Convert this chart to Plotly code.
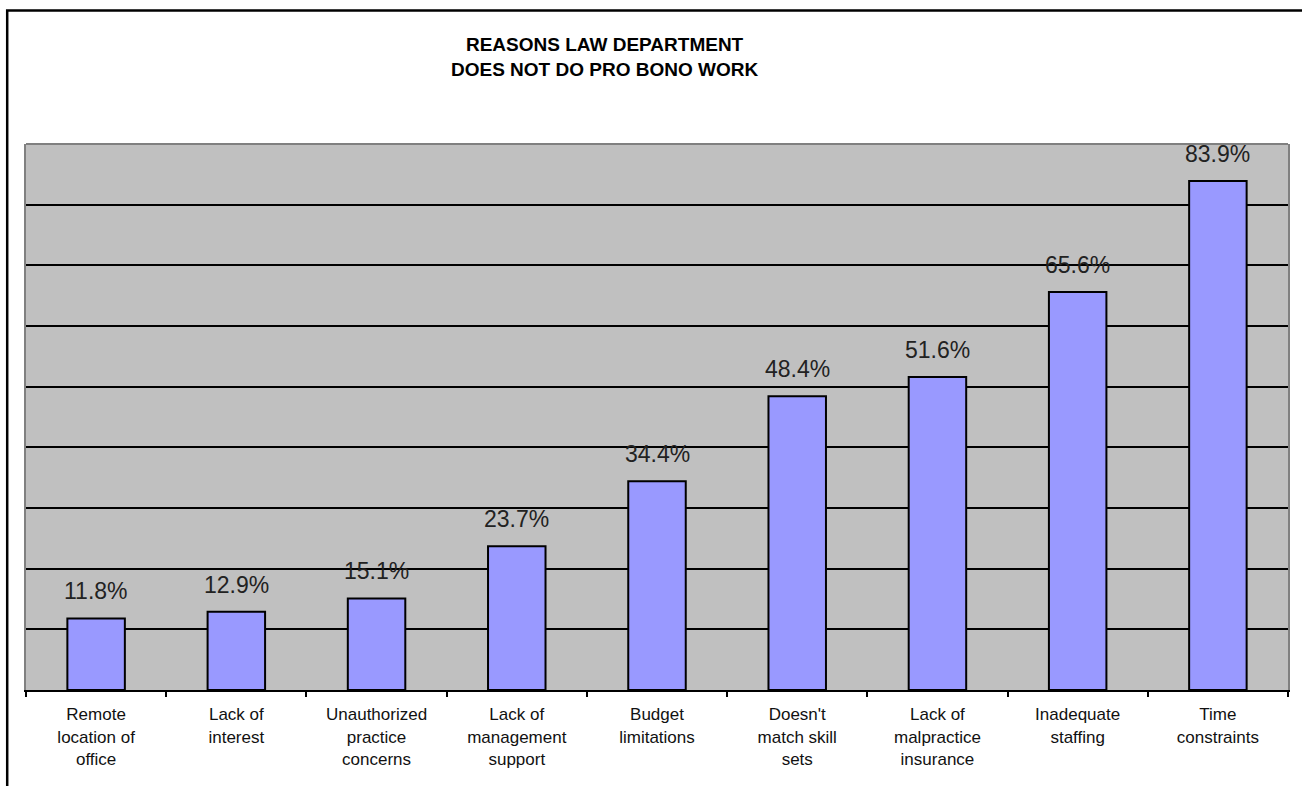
import plotly.graph_objects as go

# Survey reasons, share of respondents (%)
categories = [
    "Remote<br>location of<br>office",
    "Lack of<br>interest",
    "Unauthorized<br>practice<br>concerns",
    "Lack of<br>management<br>support",
    "Budget<br>limitations",
    "Doesn't<br>match skill<br>sets",
    "Lack of<br>malpractice<br>insurance",
    "Inadequate<br>staffing",
    "Time<br>constraints",
]
values = [11.8, 12.9, 15.1, 23.7, 34.4, 48.4, 51.6, 65.6, 83.9]
grid_values = [10, 20, 30, 40, 50, 60, 70, 80]
title_lines = ["REASONS LAW DEPARTMENT", "DOES NOT DO PRO BONO WORK"]

W, H = 1302, 786
L, R, T, B = 26, 14, 144, 96
pw, ph = W - L - R, H - T - B


def px_x(p):
    return (p - L) / pw


def px_y(p):
    return (H - B - p) / ph


FONT = "Arial, Liberation Sans, sans-serif"

fig = go.Figure(
    go.Bar(
        x=categories,
        y=values,
        width=0.41,
        marker=dict(color="#9999FF", line=dict(color="black", width=2)),
        hoverinfo="x+y",
    )
)

# value labels above each bar
for c, v in zip(categories, values):
    fig.add_annotation(
        x=c, y=v, text=f"{v:.1f}%", showarrow=False,
        yanchor="middle", yshift=27,
        font=dict(family=FONT, size=23, color="#222222"),
    )

fig.add_annotation(
    xref="paper", yref="paper", x=px_x(604), y=px_y(32),
    text="<b>" + "<br>".join(title_lines) + "</b>", showarrow=False,
    xanchor="center", yanchor="top",
    font=dict(family=FONT, size=19, color="black"),
)

shapes = [
    # top edge of the plot area
    dict(type="line", xref="paper", yref="paper", x0=0, x1=1, y0=1, y1=1,
         line=dict(color="#808080", width=2), layer="above"),
    # outer chart frame
    dict(type="rect", xref="paper", yref="paper",
         x0=px_x(7.2), x1=px_x(1330), y0=px_y(10.5), y1=px_y(820),
         line=dict(color="black", width=2.5), layer="above"),
]

fig.update_layout(
    width=W, height=H,
    margin=dict(l=L, r=R, t=T, b=B, pad=0),
    paper_bgcolor="white",
    plot_bgcolor="#C0C0C0",
    showlegend=False,
    shapes=shapes,
    font=dict(family=FONT),
    xaxis=dict(
        type="category",
        showline=True, linecolor="black", linewidth=2,
        ticks="outside", ticklen=5, tickwidth=2, tickcolor="black",
        tickson="boundaries",
        ticklabelstandoff=8,
        tickfont=dict(family=FONT, size=17, color="#111111"),
        showgrid=False, zeroline=False, fixedrange=True,
    ),
    yaxis=dict(
        range=[0, 90],
        tickvals=grid_values,
        showticklabels=False,
        ticks="",
        showgrid=True, gridcolor="black", gridwidth=1.5,
        zeroline=False,
        showline=True, linecolor="#808080", linewidth=2, mirror=True,
        fixedrange=True,
    ),
)

fig.write_html("out.html")
